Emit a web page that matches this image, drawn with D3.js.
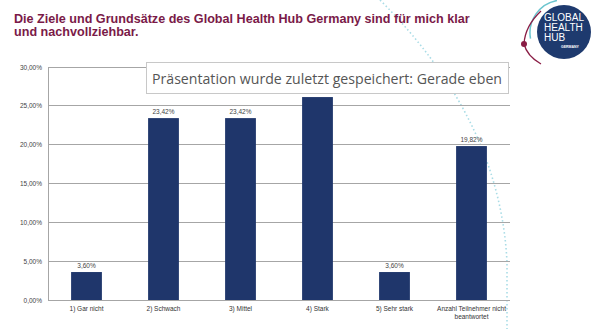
<!DOCTYPE html>
<html><head><meta charset="utf-8">
<script src="https://cdn.jsdelivr.net/npm/d3@7"></script>
<style>body{margin:0;background:#fff}svg{display:block}</style>
</head><body>
<script>
const categories = ["1) Gar nicht","2) Schwach","3) Mittel","4) Stark","5) Sehr stark","Anzahl Teilnehmer nicht beantwortet"];
const values = [3.60, 23.42, 23.42, 26.13, 3.60, 19.82];
const tickValues = [0,5,10,15,20,25,30];
const titleLines = ["Die Ziele und Grundsätze des Global Health Hub Germany sind für mich klar","und nachvollziehbar."];
const tooltipText = "Präsentation wurde zuletzt gespeichert: Gerade eben";

const W=600,H=329;
const svg=d3.select("body").append("svg").attr("width",W).attr("height",H);

// decorative dotted arc
svg.append("path").attr("d","M380,0 Q 500,120 507,262 L507,329")
  .attr("fill","none").attr("stroke","#a9dce6").attr("stroke-width",1.6)
  .attr("stroke-dasharray","1.5,2.5");

// title
svg.append("text").attr("x",14).attr("y",23).attr("fill","#7a1a48")
  .style("font-family","Liberation Sans, Arial").style("font-weight","bold").style("font-size","12.6px")
  .selectAll("tspan").data(titleLines).join("tspan").attr("x",14).attr("dy",(d,i)=>i?13:0).text(d=>d);

// logo
const lg=svg.append("g");
lg.append("path").attr("d","M557,0.5 A33,33 0 0 0 530.5,38.7").attr("fill","none").attr("stroke","#6cc5cf").attr("stroke-width",1.5);
lg.append("path").attr("d","M541,11 Q525,26 524,44 Q527,56 541,64").attr("fill","none").attr("stroke","#8a1d45").attr("stroke-width",1.3);
lg.append("circle").attr("cx",564).attr("cy",32).attr("r",27).attr("fill","#1e3a6e");
lg.append("circle").attr("cx",524).attr("cy",44).attr("r",3).attr("fill","#8a1d45");
const lt=["GLOBAL","HEALTH","HUB"];
lg.selectAll("text.l").data(lt).join("text").attr("class","l").attr("x",544).attr("y",(d,i)=>21+i*10)
  .attr("fill","#fff").style("font-family","Liberation Sans, Arial").style("font-size","10px").text(d=>d);
lg.append("text").attr("x",561).attr("y",48).attr("fill","#fff").style("font-family","Liberation Sans, Arial")
  .style("font-size","3.5px").style("font-weight","bold").text("GERMANY");

// chart
const m={l:48,r:510,t:67,b:300};
const x=d3.scaleBand().domain(categories).range([m.l,m.r]).paddingInner(0.6).paddingOuter(0.3);
const y=d3.scaleLinear().domain([0,30]).range([m.b,m.t]);
const fmt=v=>d3.format(".2f")(v).replace(".",",")+"%";

const g=svg.append("g");
g.selectAll("line.grid").data(tickValues).join("line").attr("class","grid")
  .attr("x1",m.l).attr("x2",m.r).attr("y1",d=>y(d)).attr("y2",d=>y(d))
  .attr("stroke","#a6a6a6").attr("stroke-width",1).attr("shape-rendering","crispEdges");
g.append("line").attr("x1",m.l).attr("x2",m.l).attr("y1",m.t).attr("y2",m.b)
  .attr("stroke","#a6a6a6").attr("shape-rendering","crispEdges");
g.selectAll("text.tick").data(tickValues).join("text").attr("class","tick")
  .attr("x",42).attr("y",d=>y(d)+2.5).attr("text-anchor","end").attr("fill","#444")
  .style("font-family","Liberation Sans, Arial").style("font-size","6.5px").text(d=>fmt(d));

g.selectAll("rect.bar").data(values).join("rect").attr("class","bar")
  .attr("x",(d,i)=>x(categories[i])).attr("width",x.bandwidth())
  .attr("y",d=>y(d)).attr("height",d=>m.b-y(d)).attr("fill","#1f366b");

g.selectAll("text.val").data(values).join("text").attr("class","val")
  .attr("x",(d,i)=>x(categories[i])+x.bandwidth()/2).attr("y",d=>y(d)-4)
  .attr("text-anchor","middle").attr("fill","#444")
  .style("font-family","Liberation Sans, Arial").style("font-size","6.5px").text(d=>fmt(d));

const cl=g.selectAll("text.cat").data(categories).join("text").attr("class","cat")
  .attr("x",d=>x(d)+x.bandwidth()/2).attr("y",311).attr("text-anchor","middle").attr("fill","#333")
  .style("font-family","Liberation Sans, Arial").style("font-size","6.5px");
cl.each(function(d){
  const t=d3.select(this);
  const parts=d.startsWith("Anzahl")?["Anzahl Teilnehmer nicht","beantwortet"]:[d];
  parts.forEach((p,i)=>t.append("tspan").attr("x",x(d)+x.bandwidth()/2).attr("dy",i?8:0).text(p));
});

// tooltip overlay
svg.append("rect").attr("x",146.5).attr("y",62.5).attr("width",362).attr("height",31)
  .attr("fill","#fff").attr("stroke","#c8c8c8").attr("stroke-width",1);
svg.append("text").attr("x",152).attr("y",84).attr("fill","#555")
  .attr("textLength",350).attr("lengthAdjust","spacingAndGlyphs")
  .style("font-family","Open Sans, Noto Sans, sans-serif").style("font-size","15px").text(tooltipText);
</script>
</body></html>
